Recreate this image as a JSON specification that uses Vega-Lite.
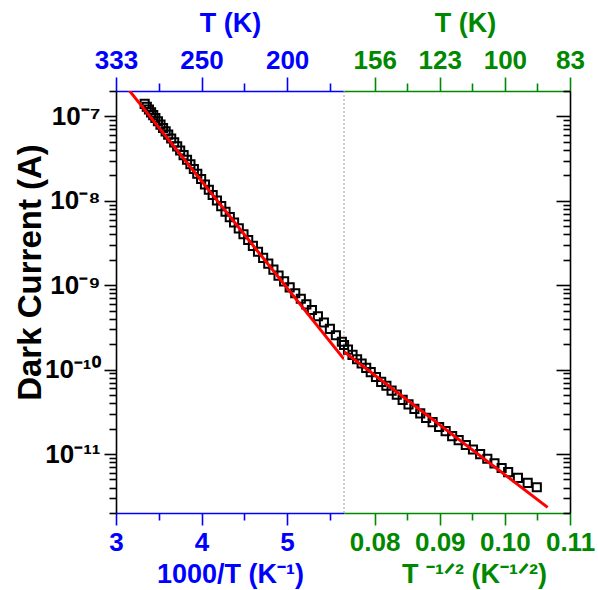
{
  "$schema": "https://vega.github.io/schema/vega-lite/v6.json",
  "background": "white",
  "padding": {"left": 14, "top": 9, "right": 5, "bottom": 2},
  "spacing": 0,
  "bounds": "flush",
  "config": {
    "font": "Liberation Sans",
    "view": {"stroke": null},
    "axis": {
      "grid": false,
      "labelFont": "Liberation Sans",
      "labelFontWeight": "bold",
      "labelFontSize": 26,
      "titleFont": "Liberation Sans",
      "titleFontWeight": "bold",
      "titleFontSize": 27,
      "domainWidth": 1.6,
      "tickWidth": 1.6,
      "labelFlush": false,
      "labelOverlap": false,
      "labelBound": false
    }
  },
  "datasets": {
    "arrhenius": [
      {"invT": 3.335, "I": 1.406e-7}, {"invT": 3.36, "I": 1.300e-7}, {"invT": 3.385, "I": 1.208e-7},
      {"invT": 3.41, "I": 1.117e-7}, {"invT": 3.435, "I": 1.035e-7}, {"invT": 3.46, "I": 9.57e-8},
      {"invT": 3.49, "I": 8.75e-8}, {"invT": 3.52, "I": 7.98e-8}, {"invT": 3.55, "I": 7.29e-8},
      {"invT": 3.58, "I": 6.65e-8}, {"invT": 3.61, "I": 6.08e-8}, {"invT": 3.645, "I": 5.47e-8},
      {"invT": 3.68, "I": 4.92e-8}, {"invT": 3.715, "I": 4.42e-8}, {"invT": 3.75, "I": 3.95e-8},
      {"invT": 3.79, "I": 3.48e-8}, {"invT": 3.83, "I": 3.07e-8}, {"invT": 3.87, "I": 2.71e-8},
      {"invT": 3.91, "I": 2.38e-8}, {"invT": 3.95, "I": 2.09e-8}, {"invT": 3.995, "I": 1.81e-8},
      {"invT": 4.04, "I": 1.56e-8}, {"invT": 4.085, "I": 1.35e-8}, {"invT": 4.13, "I": 1.17e-8},
      {"invT": 4.18, "I": 1.01e-8}, {"invT": 4.23, "I": 8.65e-9}, {"invT": 4.28, "I": 7.43e-9},
      {"invT": 4.33, "I": 6.40e-9}, {"invT": 4.38, "I": 5.53e-9}, {"invT": 4.435, "I": 4.71e-9},
      {"invT": 4.49, "I": 4.01e-9}, {"invT": 4.545, "I": 3.43e-9}, {"invT": 4.60, "I": 2.92e-9},
      {"invT": 4.66, "I": 2.49e-9}, {"invT": 4.72, "I": 2.11e-9}, {"invT": 4.78, "I": 1.80e-9},
      {"invT": 4.84, "I": 1.53e-9}, {"invT": 4.90, "I": 1.30e-9}, {"invT": 4.965, "I": 1.11e-9},
      {"invT": 5.03, "I": 9.44e-10}, {"invT": 5.095, "I": 8.04e-10}, {"invT": 5.16, "I": 6.90e-10},
      {"invT": 5.225, "I": 5.93e-10}, {"invT": 5.29, "I": 5.09e-10}, {"invT": 5.36, "I": 4.29e-10},
      {"invT": 5.43, "I": 3.61e-10}, {"invT": 5.50, "I": 3.04e-10}, {"invT": 5.57, "I": 2.55e-10},
      {"invT": 5.64, "I": 2.14e-10}
    ],
    "arrheniusFit": [
      {"invT": 3.156, "I": 2.018e-7},
      {"invT": 5.665, "I": 1.329e-10}
    ],
    "vrh": [
      {"tm": 0.0753, "I": 1.954e-10}, {"tm": 0.0759, "I": 1.722e-10}, {"tm": 0.0766, "I": 1.496e-10},
      {"tm": 0.0773, "I": 1.327e-10}, {"tm": 0.0780, "I": 1.180e-10}, {"tm": 0.0787, "I": 1.050e-10},
      {"tm": 0.0794, "I": 9.33e-11}, {"tm": 0.0802, "I": 8.17e-11}, {"tm": 0.0810, "I": 7.16e-11},
      {"tm": 0.0818, "I": 6.43e-11}, {"tm": 0.0826, "I": 5.64e-11}, {"tm": 0.0834, "I": 5.06e-11},
      {"tm": 0.0843, "I": 4.38e-11}, {"tm": 0.0852, "I": 3.87e-11}, {"tm": 0.0861, "I": 3.42e-11},
      {"tm": 0.0870, "I": 3.03e-11}, {"tm": 0.0879, "I": 2.68e-11}, {"tm": 0.0889, "I": 2.39e-11},
      {"tm": 0.0899, "I": 2.09e-11}, {"tm": 0.0909, "I": 1.87e-11}, {"tm": 0.0919, "I": 1.63e-11},
      {"tm": 0.0929, "I": 1.46e-11}, {"tm": 0.0940, "I": 1.28e-11}, {"tm": 0.0951, "I": 1.13e-11},
      {"tm": 0.0962, "I": 9.98e-12}, {"tm": 0.0973, "I": 8.79e-12}, {"tm": 0.0984, "I": 7.74e-12},
      {"tm": 0.0995, "I": 6.82e-12}, {"tm": 0.1005, "I": 6.10e-12}, {"tm": 0.1020, "I": 5.21e-12},
      {"tm": 0.1035, "I": 4.55e-12}, {"tm": 0.1049, "I": 4.04e-12}
    ],
    "vrhFit": [
      {"tm": 0.07529, "I": 1.629e-10},
      {"tm": 0.10657, "I": 2.33e-12}
    ],
    "crossover": [
      {"tm": 0.07529}
    ]
  },
  "hconcat": [
    {
      "width": 228,
      "height": 422,
      "resolve": {"axis": {"x": "independent"}},
      "layer": [
        {
          "data": {"name": "arrhenius"},
          "mark": {"type": "point", "shape": "square", "filled": false, "stroke": "black", "strokeWidth": 2, "size": 66, "opacity": 1},
          "encoding": {
            "x": {
              "field": "invT", "type": "quantitative",
              "scale": {"domain": [3, 5.665], "nice": false, "zero": false},
              "axis": {
                "orient": "bottom",
                "values": [3, 3.5, 4, 4.5, 5, 5.5],
                "labelExpr": "datum.value % 1 == 0 ? format(datum.value, 'd') : ''",
                "tickSize": {"condition": {"test": "datum.value % 1 == 0", "value": 12}, "value": 7},
                "domainColor": "#0000ff", "tickColor": "#0000ff", "labelColor": "#0000ff", "titleColor": "#0000ff",
                "labelPadding": 4,
                "title": "1000/T (K⁻¹)",
                "titlePadding": 6
              }
            },
            "y": {
              "field": "I", "type": "quantitative",
              "scale": {"type": "log", "domain": [2e-12, 2e-7], "nice": false},
              "axis": {
                "orient": "left",
                "values": [2e-12, 3e-12, 4e-12, 5e-12, 6e-12, 7e-12, 8e-12, 9e-12,
                           1e-11, 2e-11, 3e-11, 4e-11, 5e-11, 6e-11, 7e-11, 8e-11, 9e-11,
                           1e-10, 2e-10, 3e-10, 4e-10, 5e-10, 6e-10, 7e-10, 8e-10, 9e-10,
                           1e-9, 2e-9, 3e-9, 4e-9, 5e-9, 6e-9, 7e-9, 8e-9, 9e-9,
                           1e-8, 2e-8, 3e-8, 4e-8, 5e-8, 6e-8, 7e-8, 8e-8, 9e-8,
                           1e-7, 2e-7],
                "labelExpr": "abs(log(datum.value)/LN10 - round(log(datum.value)/LN10)) > 0.01 ? '' : round(log(datum.value)/LN10) == -7 ? '10⁻⁷' : round(log(datum.value)/LN10) == -8 ? '10⁻⁸' : round(log(datum.value)/LN10) == -9 ? '10⁻⁹' : round(log(datum.value)/LN10) == -10 ? '10⁻¹⁰' : '10⁻¹¹'",
                "tickSize": {"condition": {"test": "abs(log(datum.value)/LN10 - round(log(datum.value)/LN10)) < 0.01", "value": 12}, "value": 7},
                "domainColor": "black", "tickColor": "black", "labelColor": "black",
                "labelPadding": 4,
                "title": "Dark Current (A)",
                "titleColor": "black",
                "titleFontSize": 33,
                "titleAngle": -90,
                "titleAlign": "center",
                "titleBaseline": "alphabetic",
                "titleX": -76,
                "titleY": 181
              }
            }
          }
        },
        {
          "data": {"name": "arrheniusFit"},
          "mark": {"type": "line", "color": "#ff0000", "strokeWidth": 3, "clip": true},
          "encoding": {
            "x": {
              "field": "invT", "type": "quantitative",
              "scale": {"domain": [3, 5.665], "nice": false, "zero": false},
              "axis": {
                "orient": "top",
                "values": [3, 3.5, 4, 4.5, 5, 5.5],
                "labelExpr": "datum.value % 1 == 0 ? format(1000 / datum.value, 'd') : ''",
                "tickSize": {"condition": {"test": "datum.value % 1 == 0", "value": 14}, "value": 8},
                "domainColor": "#0000ff", "tickColor": "#0000ff", "labelColor": "#0000ff", "titleColor": "#0000ff",
                "labelPadding": 4,
                "title": "T (K)",
                "titlePadding": 10
              }
            },
            "y": {
              "field": "I", "type": "quantitative",
              "scale": {"type": "log", "domain": [2e-12, 2e-7], "nice": false},
              "axis": {
                "orient": "left",
                "values": [2e-12, 3e-12, 4e-12, 5e-12, 6e-12, 7e-12, 8e-12, 9e-12,
                           1e-11, 2e-11, 3e-11, 4e-11, 5e-11, 6e-11, 7e-11, 8e-11, 9e-11,
                           1e-10, 2e-10, 3e-10, 4e-10, 5e-10, 6e-10, 7e-10, 8e-10, 9e-10,
                           1e-9, 2e-9, 3e-9, 4e-9, 5e-9, 6e-9, 7e-9, 8e-9, 9e-9,
                           1e-8, 2e-8, 3e-8, 4e-8, 5e-8, 6e-8, 7e-8, 8e-8, 9e-8,
                           1e-7, 2e-7],
                "labelExpr": "abs(log(datum.value)/LN10 - round(log(datum.value)/LN10)) > 0.01 ? '' : round(log(datum.value)/LN10) == -7 ? '10⁻⁷' : round(log(datum.value)/LN10) == -8 ? '10⁻⁸' : round(log(datum.value)/LN10) == -9 ? '10⁻⁹' : round(log(datum.value)/LN10) == -10 ? '10⁻¹⁰' : '10⁻¹¹'",
                "tickSize": {"condition": {"test": "abs(log(datum.value)/LN10 - round(log(datum.value)/LN10)) < 0.01", "value": 12}, "value": 7},
                "domainColor": "black", "tickColor": "black", "labelColor": "black",
                "labelPadding": 4,
                "title": "Dark Current (A)",
                "titleColor": "black",
                "titleFontSize": 33,
                "titleAngle": -90,
                "titleAlign": "center",
                "titleBaseline": "alphabetic",
                "titleX": -76,
                "titleY": 181
              }
            }
          }
        }
      ]
    },
    {
      "width": 226,
      "height": 422,
      "resolve": {"axis": {"x": "independent"}},
      "layer": [
        {
          "data": {"name": "crossover"},
          "mark": {"type": "rule", "color": "#9a9a9a", "strokeWidth": 1, "strokeDash": [2, 2]},
          "encoding": {
            "x": {"field": "tm", "type": "quantitative", "scale": {"domain": [0.07529, 0.11], "nice": false, "zero": false}, "axis": null}
          }
        },
        {
          "data": {"name": "vrh"},
          "mark": {"type": "point", "shape": "square", "filled": false, "stroke": "black", "strokeWidth": 2, "size": 66, "opacity": 1},
          "encoding": {
            "x": {
              "field": "tm", "type": "quantitative",
              "scale": {"domain": [0.07529, 0.11], "nice": false, "zero": false},
              "axis": {
                "orient": "bottom",
                "values": [0.08, 0.085, 0.09, 0.095, 0.1, 0.105, 0.11],
                "labelExpr": "abs(datum.value * 100 - round(datum.value * 100)) < 0.001 ? format(datum.value, '.2f') : ''",
                "tickSize": {"condition": {"test": "abs(datum.value * 100 - round(datum.value * 100)) < 0.001", "value": 12}, "value": 7},
                "domainColor": "#008800", "tickColor": "#008800", "labelColor": "#008800", "titleColor": "#008800",
                "labelPadding": 4,
                "title": "T ⁻¹ᐟ² (K⁻¹ᐟ²)",
                "titlePadding": 6,
                "titleX": 130,
                "titleAlign": "center"
              }
            },
            "y": {
              "field": "I", "type": "quantitative",
              "scale": {"type": "log", "domain": [2e-12, 2e-7], "nice": false},
              "axis": {
                "orient": "right",
                "values": [2e-12, 3e-12, 4e-12, 5e-12, 6e-12, 7e-12, 8e-12, 9e-12,
                           1e-11, 2e-11, 3e-11, 4e-11, 5e-11, 6e-11, 7e-11, 8e-11, 9e-11,
                           1e-10, 2e-10, 3e-10, 4e-10, 5e-10, 6e-10, 7e-10, 8e-10, 9e-10,
                           1e-9, 2e-9, 3e-9, 4e-9, 5e-9, 6e-9, 7e-9, 8e-9, 9e-9,
                           1e-8, 2e-8, 3e-8, 4e-8, 5e-8, 6e-8, 7e-8, 8e-8, 9e-8,
                           1e-7, 2e-7],
                "labels": false,
                "title": null,
                "tickSize": {"condition": {"test": "abs(log(datum.value)/LN10 - round(log(datum.value)/LN10)) < 0.01", "value": -14}, "value": -7},
                "domainColor": "black", "tickColor": "black"
              }
            }
          }
        },
        {
          "data": {"name": "vrhFit"},
          "mark": {"type": "line", "color": "#ff0000", "strokeWidth": 3, "clip": true},
          "encoding": {
            "x": {
              "field": "tm", "type": "quantitative",
              "scale": {"domain": [0.07529, 0.11], "nice": false, "zero": false},
              "axis": {
                "orient": "top",
                "values": [0.08, 0.085, 0.09, 0.095, 0.1, 0.105, 0.11],
                "labelExpr": "abs(datum.value * 100 - round(datum.value * 100)) < 0.001 ? format(round(1 / (datum.value * datum.value)), 'd') : ''",
                "tickSize": {"condition": {"test": "abs(datum.value * 100 - round(datum.value * 100)) < 0.001", "value": 14}, "value": 8},
                "domainColor": "#008800", "tickColor": "#008800", "labelColor": "#008800", "titleColor": "#008800",
                "labelPadding": 4,
                "title": "T (K)",
                "titlePadding": 10,
                "titleX": 121,
                "titleAlign": "center"
              }
            },
            "y": {
              "field": "I", "type": "quantitative",
              "scale": {"type": "log", "domain": [2e-12, 2e-7], "nice": false},
              "axis": {
                "orient": "right",
                "values": [2e-12, 3e-12, 4e-12, 5e-12, 6e-12, 7e-12, 8e-12, 9e-12,
                           1e-11, 2e-11, 3e-11, 4e-11, 5e-11, 6e-11, 7e-11, 8e-11, 9e-11,
                           1e-10, 2e-10, 3e-10, 4e-10, 5e-10, 6e-10, 7e-10, 8e-10, 9e-10,
                           1e-9, 2e-9, 3e-9, 4e-9, 5e-9, 6e-9, 7e-9, 8e-9, 9e-9,
                           1e-8, 2e-8, 3e-8, 4e-8, 5e-8, 6e-8, 7e-8, 8e-8, 9e-8,
                           1e-7, 2e-7],
                "labels": false,
                "title": null,
                "tickSize": {"condition": {"test": "abs(log(datum.value)/LN10 - round(log(datum.value)/LN10)) < 0.01", "value": -14}, "value": -7},
                "domainColor": "black", "tickColor": "black"
              }
            }
          }
        }
      ]
    }
  ]
}
